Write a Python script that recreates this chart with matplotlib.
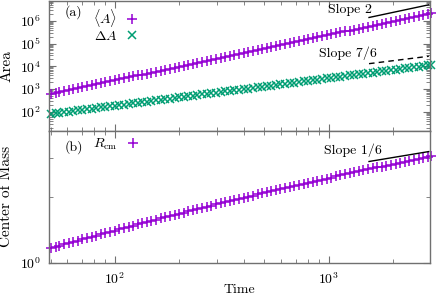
import numpy as np
import matplotlib
matplotlib.use("Agg")
import matplotlib.pyplot as plt
from matplotlib.ticker import LogLocator, NullFormatter

plt.rcParams['font.family'] = 'serif'
plt.rcParams['font.serif'] = ['cmr10']
plt.rcParams['mathtext.fontset'] = 'cm'
plt.rcParams['axes.formatter.use_mathtext'] = True
plt.rcParams['font.size'] = 10

# simulation times
time = [50, 53, 55, 58, 61, 64, 67, 70, 74, 78, 82, 86, 90, 95,
        100, 105, 110, 116, 122, 128, 134, 141, 148, 156, 164, 172, 181, 190,
        200, 210, 220, 232, 243, 256, 269, 282, 297, 312, 328, 344, 362, 380,
        400, 420, 441, 464, 487, 512, 538, 565, 594, 624, 656, 689, 724, 761,
        800, 841, 883, 928, 975, 1025, 1077, 1131, 1189, 1249, 1313, 1379, 1449, 1523,
        1600, 1681, 1767, 1856, 1951, 2050, 2154, 2263, 2378, 2499, 2626, 2760, 2900, 3000]

# mean area <A>
area_mean = [600, 674, 726, 807, 893, 983, 1077, 1176, 1314, 1460, 1614, 1775, 1944, 2166,
             2400, 2646, 2904, 3229, 3572, 3932, 4309, 4771, 5257, 5841, 6455, 7100, 7863, 8664,
             9600, 10580, 11620, 12920, 14170, 15730, 17370, 19090, 21170, 23360, 25820, 28400, 31450, 34660,
             38400, 42340, 46680, 51670, 56920, 62920, 69470, 76610, 84680, 93450, 103300, 113900, 125800, 139000,
             153600, 169700, 187100, 206700, 228200, 252200, 278400, 307000, 339300, 374400, 413800, 456400, 503900, 556700,
             614400, 678200, 749400, 826700, 913500, 1008600, 1113500, 1229100, 1357200, 1498800, 1655000, 1828200, 2018400, 2160000]

# area fluctuation dA
area_delta = [80, 85.8, 89.8, 95.8, 101.8, 107.8, 114, 120.2, 128.5, 137, 145.6, 154.2, 163, 174,
              185, 196, 207.6, 221.4, 235.3, 249.4, 263.6, 280.4, 297.3, 316.9, 336.7, 356.7, 379.3, 402.2,
              428, 454, 480, 512, 544, 577, 610, 649, 688, 733, 779, 825, 877, 930,
              990, 1050, 1111, 1185, 1259, 1335, 1411, 1500, 1591, 1696, 1802, 1909, 2030, 2152,
              2290, 2429, 2570, 2741, 2913, 3087, 3263, 3471, 3680, 3923, 4168, 4415, 4695, 4978,
              5297, 5619, 5944, 6341, 6738, 7140, 7582, 8050, 8554, 9087, 9641, 10244, 10877, 11333]

# center of mass
r_cm = [1.161, 1.177, 1.194, 1.210, 1.226, 1.243, 1.260, 1.277, 1.294, 1.311, 1.329, 1.346, 1.364, 1.382,
        1.400, 1.419, 1.437, 1.456, 1.475, 1.494, 1.513, 1.532, 1.552, 1.572, 1.592, 1.612, 1.632, 1.652,
        1.673, 1.694, 1.715, 1.736, 1.757, 1.778, 1.800, 1.822, 1.844, 1.866, 1.888, 1.911, 1.933, 1.956,
        1.979, 2.003, 2.026, 2.050, 2.074, 2.097, 2.121, 2.146, 2.170, 2.195, 2.220, 2.245, 2.270, 2.295,
        2.321, 2.346, 2.372, 2.398, 2.424, 2.450, 2.477, 2.503, 2.530, 2.557, 2.584, 2.612, 2.639, 2.667,
        2.695, 2.723, 2.751, 2.780, 2.808, 2.837, 2.866, 2.895, 2.924, 2.953, 2.982, 3.011, 3.041, 3.064]

# reference slope segments
slope_t = [1540, 2930]
slope2_y = [1.4e6, 5.07e6]
slope76_y = [1.3e4, 2.75e4]
slope16_y = [2.90, 3.22]

purple = '#9400D3'
green = '#009E73'
frame = '#707070'

fig = plt.figure(figsize=(4.36, 2.97), dpi=100)
ax1 = fig.add_axes([0.1124, 0.559, 0.8736, 0.437])
ax2 = fig.add_axes([0.1124, 0.116, 0.8736, 0.443], sharex=ax1)

ax1.plot(time, area_mean, ls='none', marker='+', ms=7.5, mew=1.1, color=purple,
         clip_on=False, label=r'$\langle A\rangle$')
ax1.plot(time, area_delta, ls='none', marker='x', ms=5.5, mew=1.1, color=green,
         clip_on=False, label=r'$\Delta A$')
ax1.plot(slope_t, slope2_y, color='black', lw=1)
ax1.plot(slope_t, slope76_y, color='black', lw=1, ls=(0, (4, 3)))
ax1.text(0.79, 0.93, 'Slope 2', transform=ax1.transAxes, ha='center', va='center')
ax1.text(0.785, 0.60, 'Slope 7/6', transform=ax1.transAxes, ha='center', va='center')

ax2.plot(time, r_cm, ls='none', marker='+', ms=7.5, mew=1.1, color=purple,
         clip_on=False, label=r'$R_{\rm cm}$')
ax2.plot(slope_t, slope16_y, color='black', lw=1)
ax2.text(0.798, 0.855, 'Slope 1/6', transform=ax2.transAxes, ha='center', va='center')

ax1.set_xscale('log')
ax1.set_yscale('log')
ax2.set_yscale('log')
ax1.set_xlim(49.2, 2965)
ax1.set_ylim(14.2, 7.3e6)
ax2.set_ylim(1, 4)

ax1.yaxis.set_major_locator(LogLocator(base=10, numticks=20))
ax1.yaxis.set_minor_locator(LogLocator(base=10, subs=np.arange(2, 10), numticks=20))
ax1.yaxis.set_minor_formatter(NullFormatter())
ax2.yaxis.set_minor_formatter(NullFormatter())
ax2.xaxis.set_minor_formatter(NullFormatter())

for ax in (ax1, ax2):
    for s in ax.spines.values():
        s.set_color(frame)
        s.set_linewidth(1)
    ax.tick_params(which='both', direction='in', top=True, right=True, color=frame, pad=6)
    ax.tick_params(which='major', length=5)
    ax.tick_params(which='minor', length=3)
plt.setp(ax1.get_xticklabels(), visible=False)

leg1 = ax1.legend(loc='upper left', bbox_to_anchor=(0.09, 1.03), frameon=False,
                  markerfirst=False, handlelength=1.0, handletextpad=0.6,
                  labelspacing=0.05, borderpad=0.2)
ax1.text(0.042, 0.915, '(a)', transform=ax1.transAxes, ha='left', va='center')
leg2 = ax2.legend(loc='upper left', bbox_to_anchor=(0.09, 1.03), frameon=False,
                  markerfirst=False, handlelength=1.0, handletextpad=0.6, borderpad=0.2)
ax2.text(0.042, 0.88, '(b)', transform=ax2.transAxes, ha='left', va='center')

ax1.set_ylabel('Area', fontsize=11)
ax1.yaxis.set_label_coords(-0.094, 0.5)
ax2.set_ylabel('Center of Mass', fontsize=11)
ax2.yaxis.set_label_coords(-0.094, 0.5)
ax2.set_xlabel('Time')
ax2.xaxis.set_label_coords(0.5, -0.165)

fig.savefig('out.png', dpi=100)
